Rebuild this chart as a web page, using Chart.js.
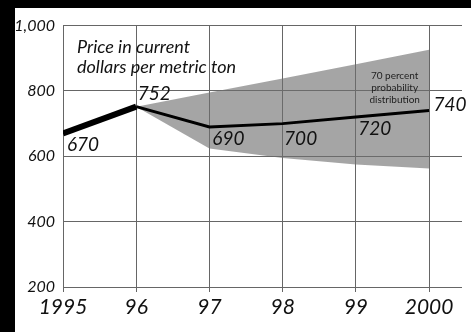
<!DOCTYPE html>
<html>
<head>
<meta charset="utf-8">
<script src="https://cdn.jsdelivr.net/npm/chart.js@4.4.1/dist/chart.umd.min.js"></script>
<style>
  html, body { margin: 0; padding: 0; }
  #frame { position: relative; width: 471px; height: 332px; background: #000; overflow: hidden; }
  #box { position: absolute; left: 15px; top: 8px; width: 456px; height: 324px; background: #fff; }
</style>
</head>
<body>
<div id="frame"><div id="box"><canvas id="priceChart" width="456" height="324"></canvas></div></div>
<script>
const years = [1995, 1996, 1997, 1998, 1999, 2000];
const yearLabels = ['1995', '96', '97', '98', '99', '2000'];
const prices = [670, 752, 690, 700, 720, 740];
const bandYears = [1996, 1997, 1998, 1999, 2000];
const bandHigh = [752, 795, 838, 882, 926];
const bandLow = [752, 624, 595, 575, 563];
const yTicks = [200, 400, 600, 800, 1000];
const titleLines = ['Price in current', 'dollars per metric ton'];
const noteLines = ['70 percent', 'probability', 'distribution'];

// label offsets from each point, px
const labelOffsets = [[20, 11], [18, -13], [19, 12], [18, 15], [19, 12], [21, -6]];

const FONT = 'Lato, "Open Sans", sans-serif';
const INK = '#111';

const textPlugin = {
  id: 'texts',
  afterDatasetsDraw(chart) {
    const ctx = chart.ctx;
    const meta = chart.getDatasetMeta(2);
    ctx.save();
    ctx.fillStyle = INK;
    ctx.textAlign = 'center';
    ctx.textBaseline = 'middle';
    ctx.font = 'italic 19px ' + FONT;
    meta.data.forEach((pt, i) => {
      ctx.fillText(String(prices[i]), pt.x + labelOffsets[i][0], pt.y + labelOffsets[i][1]);
    });

    const x = chart.scales.x, y = chart.scales.y;
    ctx.textAlign = 'left';
    ctx.textBaseline = 'alphabetic';
    ctx.font = 'italic 18px ' + FONT;
    titleLines.forEach((t, i) => ctx.fillText(t, x.left + 14, y.top + 27 + i * 20));

    ctx.textAlign = 'center';
    ctx.font = '10px ' + FONT;
    ctx.fillStyle = '#222';
    const nx = x.getPixelForValue(1999.53);
    noteLines.forEach((t, i) => ctx.fillText(t, nx, y.top + 53 + i * 12));
    ctx.restore();
  }
};

new Chart(document.getElementById('priceChart').getContext('2d'), {
  type: 'line',
  data: {
    datasets: [
      {
        data: bandYears.map((yr, i) => ({ x: yr, y: bandHigh[i] })),
        borderWidth: 0,
        pointRadius: 0,
        backgroundColor: 'rgba(110,110,110,0.62)',
        fill: '+1',
        order: 2
      },
      {
        data: bandYears.map((yr, i) => ({ x: yr, y: bandLow[i] })),
        borderWidth: 0,
        pointRadius: 0,
        fill: false,
        order: 2
      },
      {
        data: years.map((yr, i) => ({ x: yr, y: prices[i] })),
        borderColor: '#000',
        borderWidth: 3,
        pointRadius: 0,
        borderJoinStyle: 'miter',
        fill: false,
        order: 0,
        segment: { borderWidth: c => c.p0DataIndex === 0 ? 6 : 3 }
      }
    ]
  },
  options: {
    responsive: false,
    animation: false,
    layout: { padding: { top: 10, right: 9, left: 0, bottom: 0 } },
    plugins: { legend: { display: false }, tooltip: { enabled: false } },
    scales: {
      x: {
        type: 'linear',
        min: 1995,
        max: 2000.45,
        afterBuildTicks: s => { s.ticks = years.map(v => ({ value: v })); },
        afterFit: s => { s.height = 45; },
        grid: { color: '#666', lineWidth: 1, tickLength: 5, drawTicks: true },
        border: { display: false },
        ticks: {
          color: INK,
          padding: 5,
          maxRotation: 0,
          font: { family: FONT, size: 21, style: 'italic', lineHeight: 1 },
          callback: v => yearLabels[years.indexOf(v)]
        }
      },
      y: {
        min: 200,
        max: 1000,
        afterBuildTicks: s => { s.ticks = yTicks.map(v => ({ value: v })); },
        afterFit: s => { s.width = 48; },
        grid: { color: '#666', lineWidth: 1, tickLength: 0 },
        border: { display: false },
        ticks: {
          color: INK,
          padding: 8,
          font: { family: FONT, size: 16, style: 'italic' },
          callback: v => v.toLocaleString('en-US')
        }
      }
    }
  },
  plugins: [textPlugin]
});
</script>
</body>
</html>
